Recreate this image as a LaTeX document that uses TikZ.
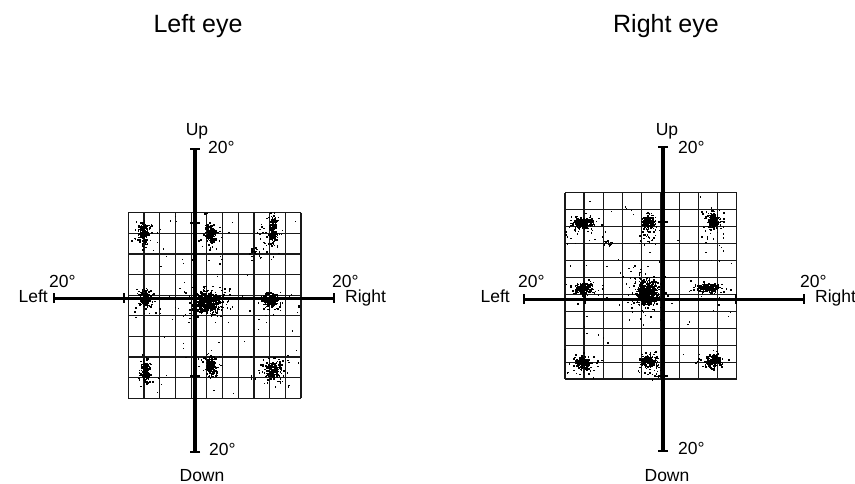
\documentclass[tikz,border=0pt]{standalone}
\usepackage{fontspec}
\setmainfont{Liberation Sans}
\usetikzlibrary{arrows.meta}

% one cloud of fixation points: centre x, centre y, spread x, spread y, number of dots
\newcommand\eyeblob[5]{%
  \foreach \k in {1,...,#5}{
    \pgfmathsetmacro\bx{#1+#3*(rand+rand+rand)}
    \pgfmathsetmacro\by{#2+#4*(rand+rand+rand)}
    \fill[dot] (\bx,\by) rectangle ++(1.5,1.5);
  }}

\begin{document}
\begin{tikzpicture}[x=1pt, y=-1pt,
    title/.style={font=\fontsize{25}{30}\selectfont, inner sep=0pt, anchor=base},
    lbl/.style={font=\fontsize{17.5}{21}\selectfont, inner sep=0pt},
    gridline/.style={black!90, line width=1.2pt},
    axisline/.style={line width=3pt, {Bar[width=10pt,line width=2pt]}-{Bar[width=10pt,line width=2pt]}},
    tick/.style={line width=1.5pt},
    dot/.style={fill=black}
]
    \useasboundingbox (0,0) rectangle (855,483);
    \pgfmathsetseed{7}

    % titles
    \node[title] (ltitle) at (198,32) {Left eye};
    \node[title] (rtitle) at (666,32) {Right eye};

    % ---- left eye ----
    \foreach \i in {0,...,11}
        \draw[gridline] ({128.3+15.7*\i},212.7) -- ({128.3+15.7*\i},398.3);
    \foreach \j in {0,...,9}
        \draw[gridline] (128.3,{212.7+20.62*\j}) -- (301,{212.7+20.62*\j});

    \foreach \cx/\cy/\sx/\sy/\n in {143/231/2.5/5/170, 210/233/2.5/4.5/160, 273/228/2/6/160,
        145/298/3/4/170, 207/302/6/5/480, 271/300/4/3/170,
        145/370/2/6/160, 211/365/2.5/5/160, 273/369/4/4/170,
        143/235/6/9/40, 210/236/5/9/35, 268/236/6/10/45, 253/253/3/3/18,
        146/300/6/7/35, 207/300/13/10/100, 271/301/8/6/35,
        146/370/5/9/35, 210/364/6/8/35, 271/368/9/8/50}
        \eyeblob{\cx}{\cy}{\sx}{\sy}{\n};
    \foreach \k in {1,...,60}
        \fill[dot] ({130+170*rnd},{214+183*rnd}) rectangle ++(1.3,1.3);

    \coordinate (lup) at (195,148);
    \coordinate (ldown) at (195,453);
    \coordinate (lleft) at (53,298);
    \coordinate (lright) at (335,298);
    \draw[axisline, line width=3.8pt] (lup) -- (ldown);
    \draw[axisline] (lleft) -- (lright);
    \draw[tick] (124,293) -- (124,303);
    \draw[tick] (266,293) -- (266,303);
    \draw[tick] (190,223) -- (200,223);
    \draw[tick] (190,376) -- (200,376);

    \node[lbl, anchor=base] (lupl) at (197,135) {Up};
    \node[lbl, anchor=base west] (lupd) at (208,153) {20°};
    \node[lbl, anchor=base] (ldownl) at (202,481) {Down};
    \node[lbl, anchor=base west] (ldownd) at (209,455) {20°};
    \node[lbl, anchor=base east] (lleftl) at (48,302) {Left};
    \node[lbl, anchor=base west] (lleftd) at (49,287) {20°};
    \node[lbl, anchor=base west] (lrightd) at (332,287) {20°};
    \node[lbl, anchor=base west] (lrightl) at (345,302) {Right};

    % ---- right eye ----
    \foreach \i in {0,...,9}
        \draw[gridline] ({565+19.08*\i},192.7) -- ({565+19.08*\i},379);
    \foreach \j in {0,...,11}
        \draw[gridline] (565,{192.7+16.94*\j}) -- (736.7,{192.7+16.94*\j});

    \foreach \cx/\cy/\sx/\sy/\n in {583/222/5/2.5/180, 648/221/3/3.5/160, 713/220/3/4/160,
        583/288/5/2.5/160, 647/292/5/6/480, 708/287/5/2/160,
        582/362/4/3/170, 648/360/4/3/160, 712/360/4/2.5/160,
        585/226/9/6/40, 607/243/3/2/15, 647/230/5/8/40, 712/226/7/9/45,
        585/290/9/5/30, 645/292/11/13/100, 705/288/10/5/30,
        584/363/8/6/40, 648/365/6/7/35, 710/362/8/5/35}
        \eyeblob{\cx}{\cy}{\sx}{\sy}{\n};
    \foreach \k in {1,...,60}
        \fill[dot] ({567+168*rnd},{194+184*rnd}) rectangle ++(1.3,1.3);

    \coordinate (rup) at (663,146);
    \coordinate (rdown) at (663,452);
    \coordinate (rleft) at (523,299);
    \coordinate (rright) at (805,299);
    \draw[axisline, line width=3.8pt] (rup) -- (rdown);
    \draw[axisline] (rleft) -- (rright);
    \draw[tick] (585,294) -- (585,304);
    \draw[tick] (736,294) -- (736,304);
    \draw[tick] (658,222) -- (668,222);
    \draw[tick] (658,376) -- (668,376);

    \node[lbl, anchor=base] (rupl) at (667,135) {Up};
    \node[lbl, anchor=base west] (rupd) at (678,153) {20°};
    \node[lbl, anchor=base] (rdownl) at (667,481) {Down};
    \node[lbl, anchor=base west] (rdownd) at (678,454) {20°};
    \node[lbl, anchor=base east] (rleftl) at (510,302) {Left};
    \node[lbl, anchor=base west] (rleftd) at (518,287) {20°};
    \node[lbl, anchor=base west] (rrightd) at (800,287) {20°};
    \node[lbl, anchor=base west] (rrightl) at (815,302) {Right};
\end{tikzpicture}
\end{document}
